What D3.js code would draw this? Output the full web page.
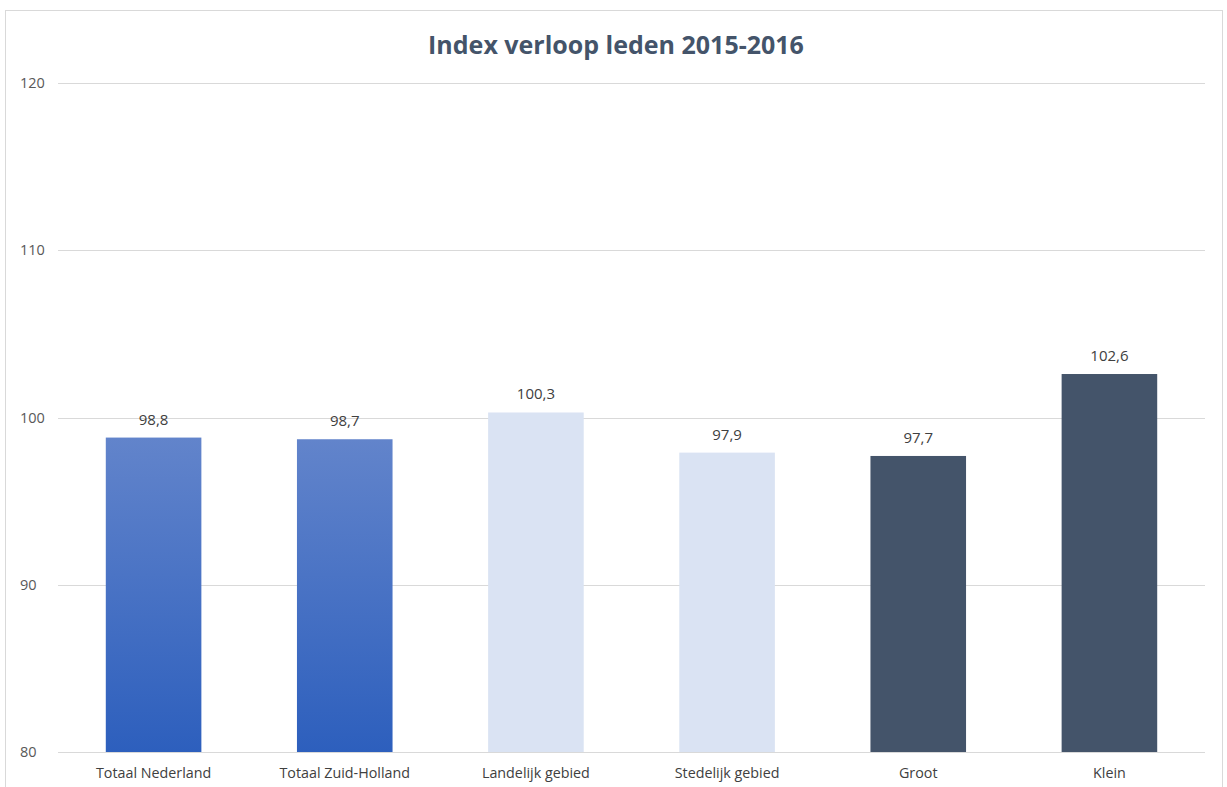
<!DOCTYPE html>
<html>
<head>
<meta charset="utf-8">
<script src="https://cdn.jsdelivr.net/npm/d3@7"></script>
<style>
  body { margin: 0; padding: 0; background: #fff; }
  svg { display: block; }
</style>
</head>
<body>
<div id="main"></div>
<script>
const categories = ['Totaal Nederland', 'Totaal Zuid-Holland', 'Landelijk gebied', 'Stedelijk gebied', 'Groot', 'Klein'];
const values = [98.8, 98.7, 100.3, 97.9, 97.7, 102.6];
const groups = ['totaal', 'totaal', 'gebied', 'gebied', 'grootte', 'grootte'];
const yTicks = [80, 90, 100, 110, 120];
const chartTitle = 'Index verloop leden 2015-2016';

const WIDTH = 1227;
const HEIGHT = 787;
const FONT = "'Open Sans', 'Noto Sans', sans-serif";
const PLOT = {left: 58, right: 1205, top: 83, bottom: 752};

const svg = d3.select('#main').append('svg').attr('width', WIDTH).attr('height', HEIGHT);

// chart border
svg.append('rect')
    .attr('x', 5.5).attr('y', 10.5)
    .attr('width', 1217).attr('height', 790)
    .attr('fill', 'none').attr('stroke', '#d9d9d9').attr('stroke-width', 1);

const defs = svg.append('defs');
const grad = defs.append('linearGradient').attr('id', 'blueGrad')
    .attr('x1', 0).attr('y1', 0).attr('x2', 0).attr('y2', 1);
grad.append('stop').attr('offset', '0%').attr('stop-color', '#6284cb');
grad.append('stop').attr('offset', '100%').attr('stop-color', '#2d5fbd');

const fillFor = {totaal: 'url(#blueGrad)', gebied: '#dae3f3', grootte: '#44546a'};

const x = d3.scaleBand().domain(categories).range([PLOT.left, PLOT.right]).paddingInner(0.5).paddingOuter(0.25);
const y = d3.scaleLinear().domain([80, 120]).range([PLOT.bottom, PLOT.top]);

// gridlines
svg.append('g').selectAll('line').data(yTicks).enter().append('line')
    .attr('x1', PLOT.left).attr('x2', PLOT.right)
    .attr('y1', (d) => Math.round(y(d)) + 0.5).attr('y2', (d) => Math.round(y(d)) + 0.5)
    .attr('stroke', '#d9d9d9').attr('stroke-width', 1);

// y labels
svg.append('g').selectAll('text').data(yTicks).enter().append('text')
    .attr('x', 20).attr('y', (d) => y(d) + 5)
    .attr('font-family', FONT).attr('font-size', 14.5).attr('fill', '#595959')
    .text((d) => d);

// bars
svg.append('g').selectAll('rect').data(categories).enter().append('rect')
    .attr('x', (d) => x(d))
    .attr('width', x.bandwidth())
    .attr('y', (d, i) => y(values[i]))
    .attr('height', (d, i) => y(80) - y(values[i]))
    .attr('fill', (d, i) => fillFor[groups[i]]);

// value labels
const fmt = (v) => d3.format('.1f')(v).replace('.', ',');
svg.append('g').selectAll('text').data(categories).enter().append('text')
    .attr('x', (d) => x(d) + x.bandwidth() / 2)
    .attr('y', (d, i) => y(values[i]) - 13)
    .attr('text-anchor', 'middle')
    .attr('font-family', FONT).attr('font-size', 15).attr('fill', '#404040')
    .text((d, i) => fmt(values[i]));

// category labels
svg.append('g').selectAll('text').data(categories).enter().append('text')
    .attr('x', (d) => x(d) + x.bandwidth() / 2)
    .attr('y', 778)
    .attr('text-anchor', 'middle')
    .attr('font-family', FONT).attr('font-size', 14.3).attr('fill', '#404040')
    .text((d) => d);

// title
svg.append('text')
    .attr('x', 616).attr('y', 54)
    .attr('text-anchor', 'middle')
    .attr('font-family', FONT).attr('font-size', 25).attr('font-weight', 'bold').attr('fill', '#44546a')
    .text(chartTitle);
</script>
</body>
</html>
